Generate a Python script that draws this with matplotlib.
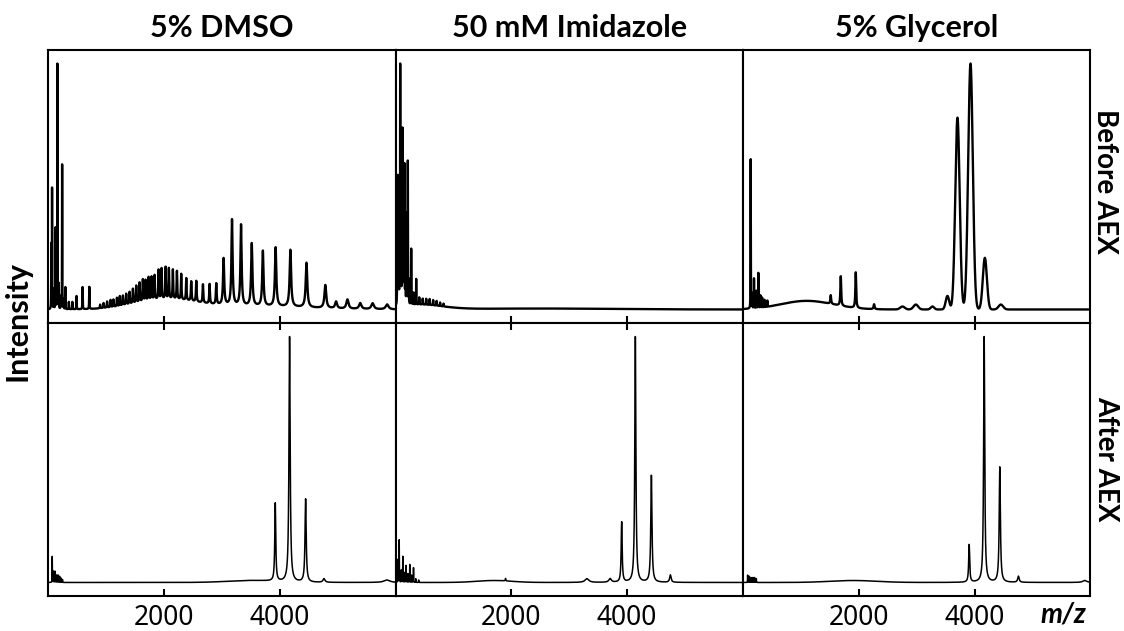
import matplotlib
matplotlib.use("Agg")
import matplotlib.pyplot as plt
import numpy as np

plt.rcParams['font.family'] = ['Noto Sans', 'DejaVu Sans']
bold_font = ['Lato', 'DejaVu Sans']

columns = ["5% DMSO", "50 mM Imidazole", "5% Glycerol"]
rows = ["Before AEX", "After AEX"]
xticks = [2000, 4000]

# peaks: (m/z, relative height, half width)
# sharp peaks are lorentzian, broad features are gaussian
dmso_before_peaks = [
    (57, 0.26, 2), (70, 0.49, 2), (100, 0.08, 2), (130, 0.33, 2), (162, 1.0, 2),
    (185, 0.10, 2), (220, 0.05, 2), (244, 0.59, 2), (270, 0.04, 2), (300, 0.09, 2),
    (360, 0.03, 3), (420, 0.03, 3), (492, 0.054, 3), (597, 0.09, 3), (713, 0.09, 3),
    (900, 0.015, 5), (960, 0.02, 5), (1020, 0.025, 5), (1080, 0.03, 5), (1130, 0.03, 5),
    (1190, 0.035, 5), (1240, 0.04, 5), (1293, 0.04, 6), (1350, 0.045, 6), (1408, 0.05, 6),
    (1466, 0.06, 6), (1523, 0.07, 6), (1581, 0.08, 6), (1638, 0.09, 6), (1684, 0.085, 6),
    (1736, 0.095, 6), (1788, 0.095, 6), (1840, 0.10, 6), (1909, 0.12, 6), (1961, 0.125, 6),
    (2030, 0.13, 6), (2087, 0.125, 6), (2156, 0.12, 6), (2226, 0.115, 6), (2300, 0.105, 6),
    (2387, 0.09, 6), (2473, 0.08, 7), (2560, 0.085, 7), (2675, 0.075, 7), (2790, 0.08, 7),
    (2905, 0.085, 8), (3032, 0.19, 12), (3177, 0.35, 12), (3333, 0.33, 12), (3518, 0.255, 13),
    (3710, 0.225, 13), (3930, 0.24, 14), (4185, 0.232, 15), (4463, 0.182, 16), (4788, 0.094, 18),
    (4974, 0.028, 20), (5170, 0.038, 22), (5391, 0.024, 24), (5605, 0.024, 26), (5855, 0.02, 28),
]
dmso_before_humps = [(2050, 0.04, 550), (3700, 0.012, 800)]

imid_before_peaks = [
    (30, 0.35, 2), (40, 0.53, 2), (55, 0.45, 2), (70, 0.30, 2), (81, 1.0, 2),
    (95, 0.40, 2), (110, 0.50, 2), (121, 0.72, 2), (135, 0.35, 2), (145, 0.45, 2),
    (155, 0.57, 2), (170, 0.30, 2), (190, 0.37, 2), (200, 0.25, 2), (213, 0.60, 2),
    (230, 0.10, 2), (271, 0.236, 2), (310, 0.05, 2), (357, 0.108, 2), (410, 0.03, 3),
    (470, 0.025, 3), (530, 0.025, 3), (590, 0.025, 3), (650, 0.022, 3), (710, 0.02, 3),
    (770, 0.015, 3), (830, 0.012, 3),
]
imid_before_humps = [(400, 0.02, 400), (2500, 0.004, 1200)]

glyc_before_peaks = [
    (133, 0.607, 2), (160, 0.06, 2), (190, 0.121, 2), (230, 0.07, 2), (265, 0.142, 2),
    (300, 0.05, 2), (330, 0.04, 2), (370, 0.03, 2), (420, 0.025, 2),
    (1515, 0.035, 8), (1688, 0.12, 8), (1947, 0.145, 8), (2263, 0.02, 10),
]
glyc_before_humps = [
    (1100, 0.035, 450), (2753, 0.012, 40), (2984, 0.02, 40), (3271, 0.012, 30),
    (3530, 0.055, 30), (3703, 0.78, 38), (3928, 1.0, 40), (4176, 0.21, 35), (4452, 0.02, 40),
]

dmso_after_peaks = [
    (73, 0.106, 2), (100, 0.046, 2), (125, 0.045, 2), (150, 0.03, 2), (175, 0.03, 2),
    (200, 0.025, 2), (225, 0.018, 2), (250, 0.012, 2),
    (3924, 0.318, 10), (4171, 1.0, 12), (4448, 0.339, 12), (4765, 0.015, 20), (5850, 0.01, 60),
]
dmso_after_humps = [(3500, 0.008, 400)]

imid_after_peaks = [
    (40, 0.093, 2), (64, 0.173, 2), (100, 0.05, 2), (126, 0.106, 2), (160, 0.04, 2),
    (184, 0.069, 2), (215, 0.035, 2), (246, 0.073, 2), (280, 0.03, 2), (311, 0.06, 2),
    (350, 0.015, 2), (400, 0.01, 2), (1900, 0.01, 5),
    (3305, 0.015, 40), (3705, 0.015, 25), (3905, 0.245, 10), (4141, 1.0, 11), (4418, 0.435, 12),
    (4746, 0.03, 15),
]
imid_after_humps = [(1700, 0.008, 300)]

glyc_after_peaks = [
    (80, 0.03, 2), (110, 0.025, 2), (140, 0.02, 2), (170, 0.02, 2), (200, 0.02, 2),
    (230, 0.015, 2),
    (3905, 0.153, 10), (4164, 1.0, 11), (4434, 0.469, 12), (4756, 0.025, 15), (5900, 0.008, 40),
]
glyc_after_humps = [(1900, 0.008, 400)]

spectra = [
    [(dmso_before_peaks, dmso_before_humps), (imid_before_peaks, imid_before_humps),
     (glyc_before_peaks, glyc_before_humps)],
    [(dmso_after_peaks, dmso_after_humps), (imid_after_peaks, imid_after_humps),
     (glyc_after_peaks, glyc_after_humps)],
]

mz = np.linspace(0, 6000, 24001)


def spectrum(peaks, humps):
    y = np.zeros_like(mz)
    for c, h, w in peaks:
        y += h / (1 + ((mz - c) / w) ** 2)
    for c, h, w in humps:
        y += h * np.exp(-0.5 * ((mz - c) / w) ** 2)
    return y / y.max()


W, H = 1124, 631
fig = plt.figure(figsize=(W / 100, H / 100), dpi=100)

pw = 347.5
lefts = [48, 48 + pw, 48 + 2 * pw]
tops = [50, 323]
ph = 273

for r in range(2):
    for c in range(3):
        ax = fig.add_axes([lefts[c] / W, 1 - (tops[r] + ph) / H, pw / W, ph / H])
        peaks, humps = spectra[r][c]
        ax.plot(mz, spectrum(peaks, humps), color='black', lw=1.7 if r == 0 else 1.1)
        ax.set_xlim(0, 6000)
        ax.set_ylim(-0.055, 1.055)
        ax.set_yticks([])
        ax.set_xticks(xticks)
        for s in ax.spines.values():
            s.set_linewidth(1.5)
        if r == 0:
            ax.tick_params(axis='x', direction='in', length=5, width=1.5, labelbottom=False)
        else:
            ax.tick_params(axis='x', direction='in', length=5, width=1.5, top=True,
                           labelsize=19, pad=6)

for c in range(3):
    fig.text((lefts[c] + pw / 2) / W, 1 - 28 / H, columns[c], ha='center', va='center',
             fontsize=22, fontweight='bold', family=bold_font)

fig.text(1105 / W, 1 - 181 / H, rows[0], rotation=-90, ha='center', va='center',
         fontsize=20, fontweight='bold', family=bold_font)
fig.text(1106 / W, 1 - 459 / H, rows[1], rotation=-90, ha='center', va='center',
         fontsize=20, fontweight='bold', family=bold_font)
fig.text(18 / W, 1 - 321 / H, "Intensity", rotation=90, ha='center', va='center',
         fontsize=22, fontweight='bold', family=bold_font)
fig.text(1063 / W, 1 - 614 / H, "m/z", ha='center', va='center', fontsize=20,
         fontweight='bold', style='italic', family=bold_font)

fig.savefig("out.png", dpi=100)
